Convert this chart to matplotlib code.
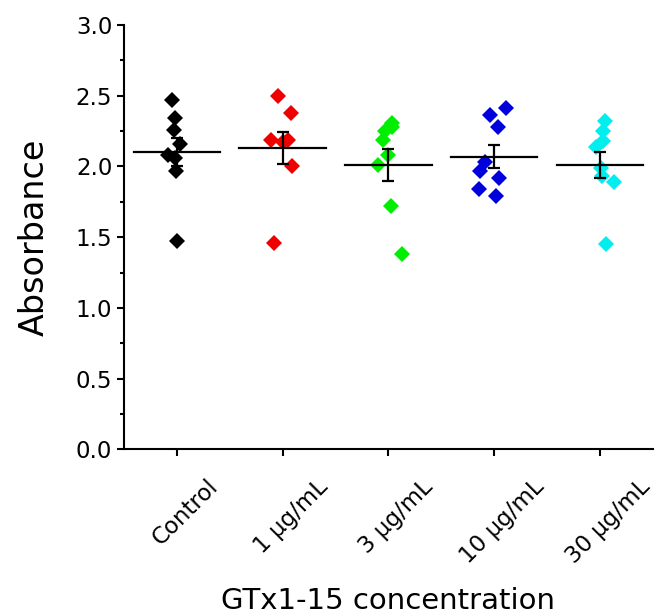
import matplotlib
matplotlib.use('Agg')
import matplotlib.pyplot as plt
import matplotlib.transforms as mtransforms
from matplotlib.ticker import MultipleLocator

categories = ['Control', '1 \u03bcg/mL', '3 \u03bcg/mL', '10 \u03bcg/mL', '30 \u03bcg/mL']
colors = ['black', '#ee0000', '#00ee00', '#0000dd', '#00eeee']

# absorbance of each well, with the horizontal scatter offsets seen in the figure
values = [
    [2.47, 2.34, 2.26, 2.16, 2.08, 2.06, 1.97, 1.47],
    [2.50, 2.38, 2.19, 2.19, 2.17, 2.00, 1.46],
    [2.31, 2.28, 2.25, 2.19, 2.08, 2.01, 1.72, 1.38],
    [2.41, 2.36, 2.28, 2.03, 1.97, 1.92, 1.84, 1.79],
    [2.32, 2.25, 2.18, 2.14, 1.99, 1.93, 1.89, 1.45],
]
offsets = [
    [-0.05, -0.02, -0.03, 0.03, -0.08, -0.02, -0.01, 0.0],
    [-0.04, 0.08, -0.11, 0.05, 0.0, 0.09, -0.08],
    [0.03, 0.03, -0.03, -0.05, 0.0, -0.10, 0.02, 0.13],
    [0.11, -0.04, 0.04, -0.09, -0.13, 0.05, -0.14, 0.02],
    [0.05, 0.03, 0.03, -0.04, 0.01, 0.02, 0.13, 0.06],
]
means = [2.10, 2.13, 2.01, 2.07, 2.01]
sems = [0.10, 0.11, 0.11, 0.08, 0.09]

fig = plt.figure(figsize=(6.67, 6.15), dpi=100)
ax = fig.add_axes([0.186, 0.2694, 0.7926, 0.69])

for i in range(len(categories)):
    xs = [i + 1 + o for o in offsets[i]]
    ax.plot(xs, values[i], linestyle='none', marker='D', markersize=8.5,
            color=colors[i], markeredgewidth=0, zorder=2)
    ax.plot([i + 1 - 0.41, i + 1 + 0.41], [means[i], means[i]], color='black', linewidth=1.6, zorder=3)
    ax.errorbar([i + 1], [means[i]], yerr=[sems[i]], color='black', capsize=4,
                elinewidth=1.6, capthick=1.6, zorder=3)

ax.set_xlim(0.5, 5.5)
ax.set_ylim(0, 3.0)
ax.set_xticks(range(1, 6))
ax.set_xticklabels(categories, rotation=45, fontsize=16.5)
ax.yaxis.set_major_locator(MultipleLocator(0.5))
ax.yaxis.set_minor_locator(MultipleLocator(0.25))
ax.yaxis.set_major_formatter(plt.FormatStrFormatter('%.1f'))
ax.tick_params(axis='y', labelsize=16.5)
ax.tick_params(which='major', length=5, width=1.5)
ax.tick_params(which='minor', length=3, width=1.5)
ax.spines['top'].set_visible(False)
ax.spines['right'].set_visible(False)
ax.spines['left'].set_linewidth(1.5)
ax.spines['bottom'].set_linewidth(1.5)

# nudge the rotated category labels right and down, as in the original
shift = mtransforms.ScaledTranslation(0.08, -0.14, fig.dpi_scale_trans)
for lab in ax.get_xticklabels():
    lab.set_transform(lab.get_transform() + shift)

ax.set_ylabel('Absorbance', fontsize=24, labelpad=18)
ax.set_xlabel('GTx1-15 concentration', fontsize=21)
ax.xaxis.set_label_coords(0.5, -0.325)

fig.savefig('out.png', dpi=100)
